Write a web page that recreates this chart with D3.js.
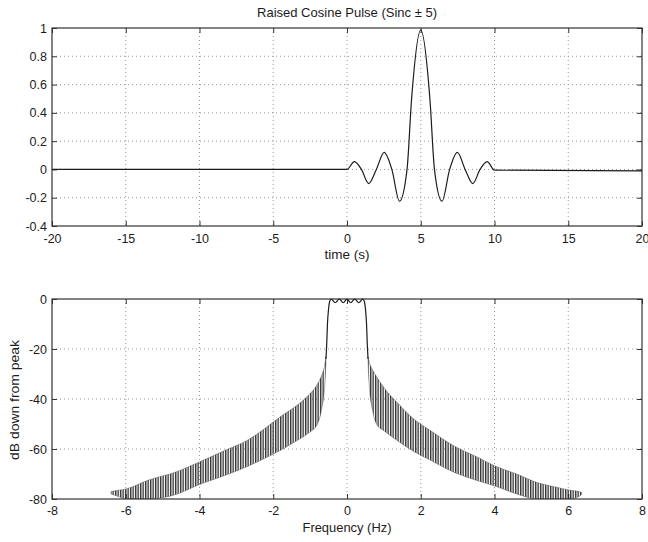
<!DOCTYPE html>
<html>
<head>
<meta charset="utf-8">
<script src="https://cdn.jsdelivr.net/npm/d3@7"></script>
<style>
  html, body { margin: 0; padding: 0; background: #fff; }
  svg { display: block; font-family: "Liberation Sans", Arial, sans-serif; }
</style>
</head>
<body>
<div id="chart"></div>
<script>
// top panel: raised cosine pulse
const timeS = [-20, 0, 0.5, 0.98, 1.47, 1.99, 2.52, 3.04, 3.56, 4.07, 4.38, 5, 5.62, 5.93, 6.44, 6.96, 7.48, 8.01, 8.53, 9.02, 9.5, 10, 20]
const pulseAmp = [0, 0, 0.055, 0, -0.1, 0, 0.12, 0, -0.225, 0, 0.5, 0.985, 0.5, 0, -0.225, 0, 0.12, 0, -0.1, 0, 0.055, -0.005, -0.01]

// bottom panel: passband of the spectrum
const passFreq = [-0.57, -0.55, -0.53, -0.5, -0.47, -0.43, -0.32, -0.21, -0.1, 0, 0.1, 0.21, 0.32, 0.43, 0.47, 0.5, 0.53, 0.55, 0.57]
const passDb = [-24, -18, -10, -4, -1, 0, -1.5, 0, -1.5, 0, -1.5, 0, -1.5, 0, -1, -4, -10, -18, -24]

// sidelobe band: upper (peak) and lower (trough) envelopes
const leftFreq = [-6.4, -6.2, -6.0, -5.4, -4.6, -4.05, -3.3, -2.7, -2.2, -1.8, -1.4, -1.08, -0.8, -0.7, -0.6, -0.57]
const leftUpper = [-77, -76.5, -76, -72.5, -69, -65.5, -60.5, -56.5, -51.5, -47, -43, -39, -34, -31, -26, -23]
const leftLower = [-78, -79, -80, -80, -78, -74.5, -70.5, -67, -63.5, -60.5, -57, -54, -50, -45, -34, -25]

const rightFreq = [0.57, 0.6, 0.7, 0.8, 1.03, 1.4, 1.81, 2.2, 2.93, 3.5, 4.05, 4.6, 5.17, 5.6, 6.05, 6.29, 6.37]
const rightUpper = [-23, -25, -28.5, -31, -36, -42, -48, -52, -59, -63, -67, -70, -73.5, -75, -76.5, -77, -77.5]
const rightLower = [-25, -34, -45, -50, -53, -57, -61, -64, -69.5, -72.5, -75, -78, -80, -80, -80, -79, -78]

const timeTicks = [-20, -15, -10, -5, 0, 5, 10, 15, 20]
const ampTicks = [-0.4, -0.2, 0, 0.2, 0.4, 0.6, 0.8, 1]
const freqTicks = [-8, -6, -4, -2, 0, 2, 4, 6, 8]
const dbTicks = [-80, -60, -40, -20, 0]

const W = 648
const H = 542
const ink = '#1c1c1c'

const svg = d3.select('#chart').append('svg')
  .attr('width', W)
  .attr('height', H)

const defs = svg.append('defs')
defs.append('pattern')
  .attr('id', 'spikes')
  .attr('patternUnits', 'userSpaceOnUse')
  .attr('width', 2.5)
  .attr('height', 10)
  .append('line')
  .attr('x1', 0.7).attr('x2', 0.7)
  .attr('y1', 0).attr('y2', 10)
  .attr('stroke', '#1e1e1e')
  .attr('stroke-width', 1.25)

function panel (box, xDom, yDom, xTicks, yTicks, padX) {
  const x = d3.scaleLinear().domain(xDom).range([box.left, box.right])
  const y = d3.scaleLinear().domain(yDom).range([box.bottom, box.top])
  const g = svg.append('g')

  // dotted grid
  g.append('g').selectAll('line')
    .data(xTicks.slice(1, -1))
    .join('line')
    .attr('x1', d => x(d)).attr('x2', d => x(d))
    .attr('y1', box.top).attr('y2', box.bottom)
    .attr('stroke', '#9a9a9a')
    .attr('stroke-dasharray', '1,3')
  g.append('g').selectAll('line')
    .data(yTicks.slice(1, -1))
    .join('line')
    .attr('x1', box.left).attr('x2', box.right)
    .attr('y1', d => y(d)).attr('y2', d => y(d))
    .attr('stroke', '#9a9a9a')
    .attr('stroke-dasharray', '1,3')

  const fmt = d => String(d)
  const axes = [
    [d3.axisBottom(x).tickValues(xTicks).tickFormat(fmt).tickPadding(padX), box.bottom, 0],
    [d3.axisTop(x).tickValues(xTicks).tickFormat(''), box.top, 0],
    [d3.axisLeft(y).tickValues(yTicks).tickFormat(fmt).tickPadding(5), 0, box.left],
    [d3.axisRight(y).tickValues(yTicks).tickFormat(''), 0, box.right]
  ]
  axes.forEach(([ax, ty, tx]) => {
    const a = g.append('g')
      .attr('transform', 'translate(' + tx + ',' + ty + ')')
      .call(ax.tickSize(-5).tickSizeOuter(0))
    a.select('.domain').remove()
    a.selectAll('line').attr('stroke', '#333')
    a.selectAll('text')
      .attr('fill', ink)
      .style('font-size', '12.5px')
      .style('font-family', '"Liberation Sans", Arial, sans-serif')
  })

  g.append('rect')
    .attr('x', box.left).attr('y', box.top)
    .attr('width', box.right - box.left)
    .attr('height', box.bottom - box.top)
    .attr('fill', 'none')
    .attr('stroke', '#333')
    .attr('stroke-width', 1.2)

  return { x, y, g }
}

function label (text, x, y, len, rotate) {
  const t = svg.append('text')
    .attr('x', x).attr('y', y)
    .attr('text-anchor', 'middle')
    .attr('fill', ink)
    .style('font-size', '13px')
    .attr('textLength', len)
    .attr('lengthAdjust', 'spacingAndGlyphs')
    .text(text)
  if (rotate) t.attr('transform', 'rotate(-90,' + x + ',' + y + ')')
}

// ---- top panel
const topBox = { left: 52, right: 642, top: 28, bottom: 226 }
const p1 = panel(topBox, [-20, 20], [-0.4, 1], timeTicks, ampTicks, 8)

const pulse = timeS.map((t, i) => ({ t, v: pulseAmp[i] }))
p1.g.append('path')
  .datum(pulse)
  .attr('fill', 'none')
  .attr('stroke', ink)
  .attr('stroke-width', 1.2)
  .attr('d', d3.line().x(d => p1.x(d.t)).y(d => p1.y(d.v)).curve(d3.curveMonotoneX))

label('Raised Cosine Pulse (Sinc \u00b1 5)', 347, 17, 180)
label('time (s)', 347, 259, 45)

// ---- bottom panel
const botBox = { left: 52, right: 642, top: 299, bottom: 499 }
const p2 = panel(botBox, [-8, 8], [-80, 0], freqTicks, dbTicks, 7)

defs.append('clipPath').attr('id', 'botClip')
  .append('rect')
  .attr('x', botBox.left).attr('y', botBox.top)
  .attr('width', botBox.right - botBox.left)
  .attr('height', botBox.bottom - botBox.top)

const band = d3.area()
  .x(d => p2.x(d.f))
  .y0(d => p2.y(d.lo))
  .y1(d => p2.y(d.hi))
  .curve(d3.curveMonotoneX)

const sides = [
  leftFreq.map((f, i) => ({ f, hi: leftUpper[i], lo: leftLower[i] })),
  rightFreq.map((f, i) => ({ f, hi: rightUpper[i], lo: rightLower[i] }))
]
const bandG = p2.g.append('g').attr('clip-path', 'url(#botClip)')
bandG.selectAll('path.band')
  .data(sides)
  .join('path')
  .attr('class', 'band')
  .attr('fill', 'url(#spikes)')
  .attr('stroke', '#444')
  .attr('stroke-width', 0.4)
  .attr('d', band)

const pass = passFreq.map((f, i) => ({ f, db: passDb[i] }))
p2.g.append('path')
  .datum(pass)
  .attr('fill', 'none')
  .attr('stroke', ink)
  .attr('stroke-width', 1.2)
  .attr('d', d3.line().x(d => p2.x(d.f)).y(d => p2.y(d.db)).curve(d3.curveMonotoneX))

label('Frequency (Hz)', 347, 532, 89)
label('dB down from peak', 19, 400, 120, true)
</script>
</body>
</html>
